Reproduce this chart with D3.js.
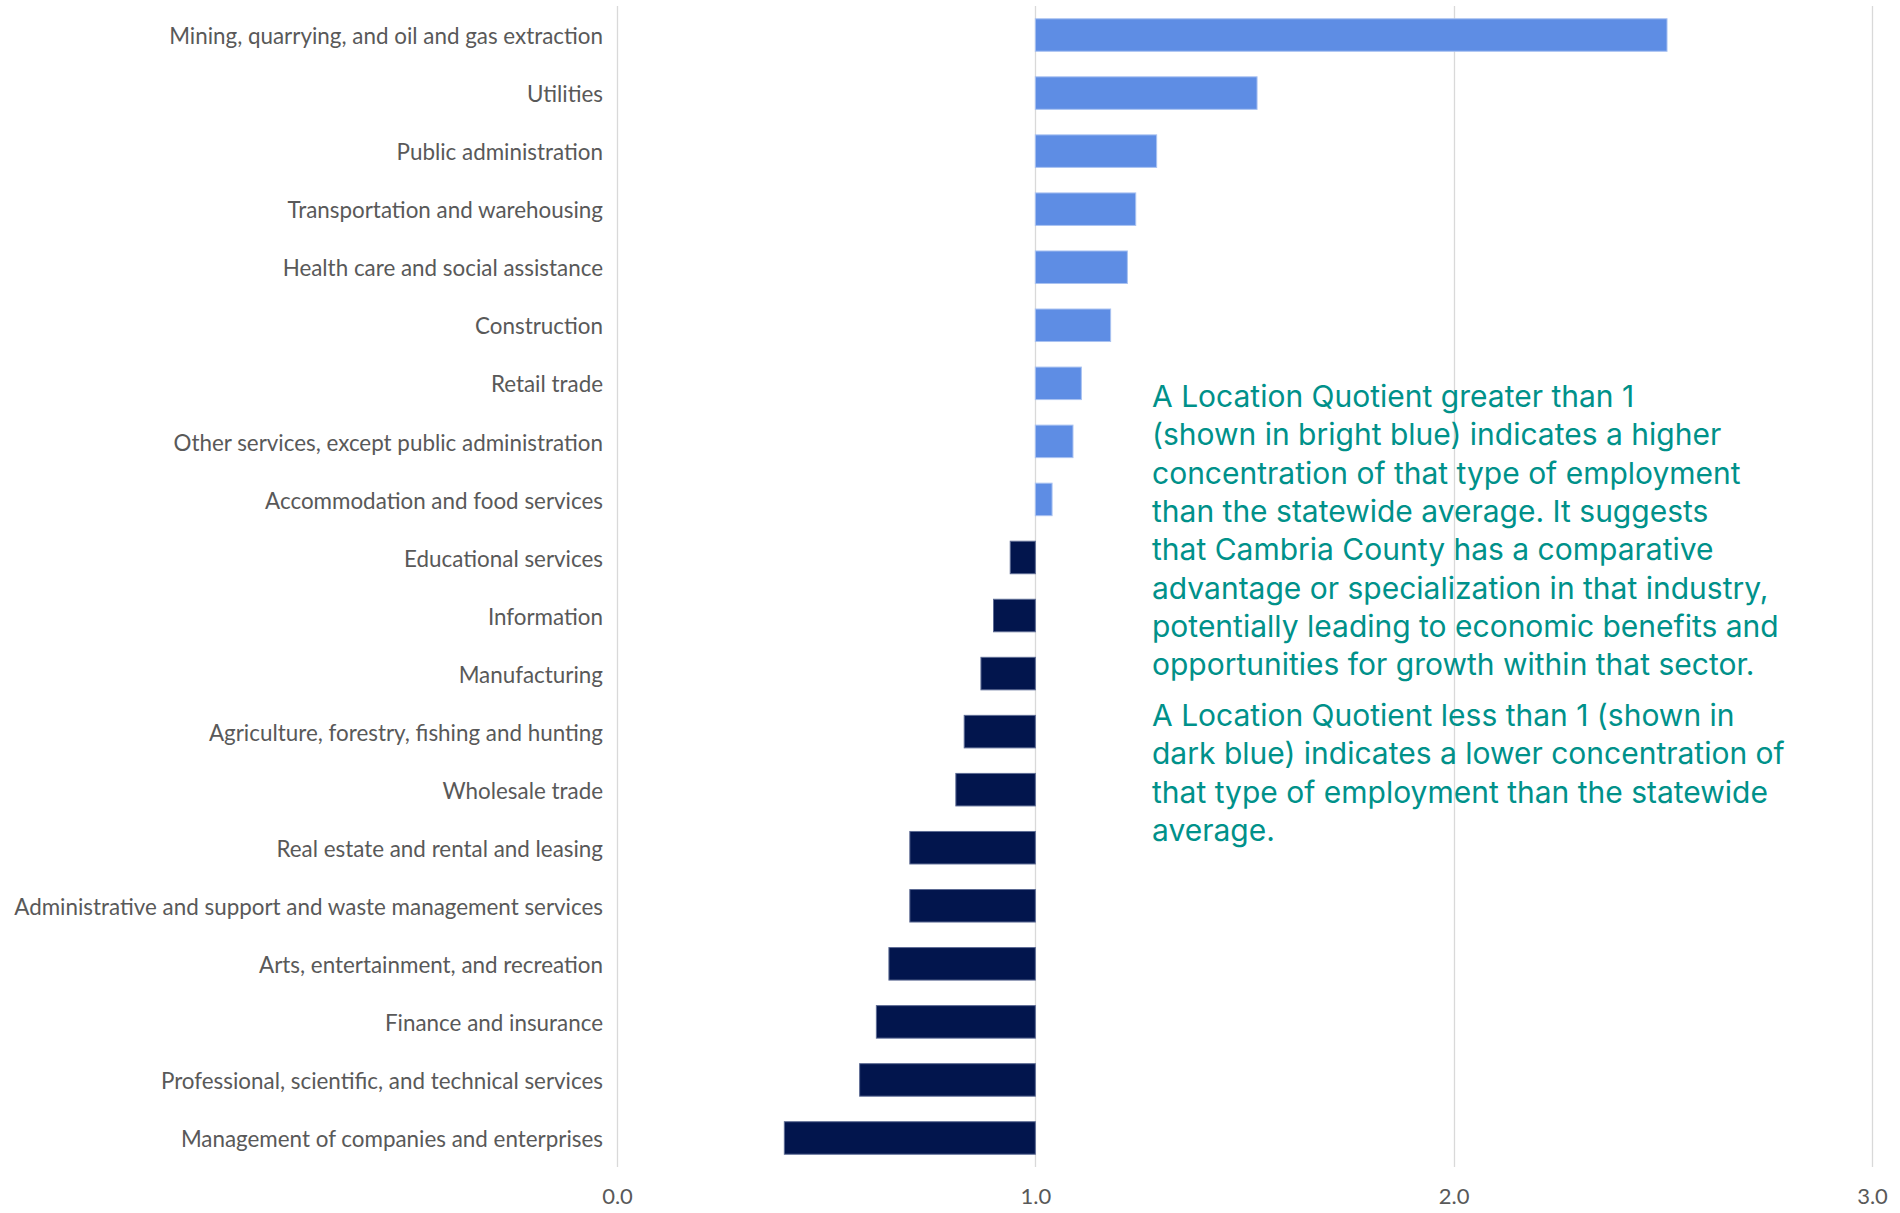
<!DOCTYPE html>
<html>
<head>
<meta charset="utf-8">
<script src="https://cdn.jsdelivr.net/npm/d3@7"></script>
<style>
  html, body { margin: 0; padding: 0; background: #ffffff; }
  svg { display: block; }
</style>
</head>
<body>
<div id="chart"></div>
<script>
// Industry sectors, ordered as they appear from top to bottom
const categories = [
  "Mining, quarrying, and oil and gas extraction",
  "Utilities",
  "Public administration",
  "Transportation and warehousing",
  "Health care and social assistance",
  "Construction",
  "Retail trade",
  "Other services, except public administration",
  "Accommodation and food services",
  "Educational services",
  "Information",
  "Manufacturing",
  "Agriculture, forestry, fishing and hunting",
  "Wholesale trade",
  "Real estate and rental and leasing",
  "Administrative and support and waste management services",
  "Arts, entertainment, and recreation",
  "Finance and insurance",
  "Professional, scientific, and technical services",
  "Management of companies and enterprises"
];

// Location quotient for each sector (1.0 = statewide average)
const locationQuotient = [
  2.51, 1.53, 1.29, 1.24, 1.22, 1.18, 1.11, 1.09, 1.04,
  0.94, 0.90, 0.87, 0.83, 0.81, 0.70, 0.70, 0.65, 0.62, 0.58, 0.40
];

const xTicks = [0, 1, 2, 3];

const noteParagraphs = [
  [
    "A Location Quotient greater than 1",
    "(shown in bright blue) indicates a higher",
    "concentration of that type of employment",
    "than the statewide average. It suggests",
    "that Cambria County has a comparative",
    "advantage or specialization in that industry,",
    "potentially leading to economic benefits and",
    "opportunities for growth within that sector."
  ],
  [
    "A Location Quotient less than 1 (shown in",
    "dark blue) indicates a lower concentration of",
    "that type of employment than the statewide",
    "average."
  ]
];

const W = 1900, H = 1213;
const margin = { top: 6, right: 28, bottom: 46, left: 617 };

const svg = d3.select("#chart").append("svg")
  .attr("width", W)
  .attr("height", H);

const x = d3.scaleLinear()
  .domain([0, 3])
  .range([margin.left, W - margin.right]);

const y = d3.scaleBand()
  .domain(categories)
  .range([margin.top, H - margin.bottom])
  .paddingInner(0.44)
  .paddingOuter(0.22);

const labelFont = "Lato, 'Carlito', 'Liberation Sans', sans-serif";

// vertical gridlines
svg.append("g")
  .selectAll("line")
  .data(xTicks)
  .join("line")
  .attr("x1", d => Math.round(x(d)) + 0.5)
  .attr("x2", d => Math.round(x(d)) + 0.5)
  .attr("y1", margin.top)
  .attr("y2", H - margin.bottom)
  .attr("stroke", "#d9d9d9")
  .attr("stroke-width", 1.3);

// bars grow from the statewide baseline at 1.0
const rows = categories.map((c, i) => ({ name: c, value: locationQuotient[i] }));

svg.append("g")
  .selectAll("rect")
  .data(rows)
  .join("rect")
  .attr("x", d => Math.min(x(1), x(d.value)))
  .attr("width", d => Math.abs(x(d.value) - x(1)))
  .attr("y", d => y(d.name))
  .attr("height", y.bandwidth())
  .attr("fill", d => d.value >= 1 ? "#5e8de4" : "#02154d")
  .attr("stroke", d => d.value >= 1 ? "#a9c2f1" : "#5d6b94")
  .attr("stroke-width", 1);

// category labels
const yAxis = d3.axisLeft(y).tickSize(0).tickPadding(14);
const gy = svg.append("g")
  .attr("transform", `translate(${margin.left},2)`)
  .call(yAxis);
gy.select(".domain").remove();
gy.selectAll("text")
  .attr("fill", "#595959")
  .style("font-family", labelFont)
  .style("font-size", "22.4px");

// value axis labels
const xAxis = d3.axisBottom(x)
  .tickValues(xTicks)
  .tickFormat(d3.format(".1f"))
  .tickSize(0)
  .tickPadding(21);
const gx = svg.append("g")
  .attr("transform", `translate(0,${H - margin.bottom})`)
  .call(xAxis);
gx.select(".domain").remove();
gx.selectAll("text")
  .attr("fill", "#595959")
  .style("font-family", labelFont)
  .style("font-size", "22px");

// explanatory note
const note = svg.append("g")
  .attr("fill", "#00918a")
  .style("font-family", "Inter, Roboto, 'Noto Sans', sans-serif")
  .style("font-size", "30px");

const lineStep = 38.3, paraGap = 51;
let baseline = 407;
noteParagraphs.forEach((para, pi) => {
  if (pi > 0) baseline += paraGap - lineStep;
  para.forEach(line => {
    note.append("text")
      .attr("x", 1152)
      .attr("y", baseline)
      .text(line);
    baseline += lineStep;
  });
});
</script>
</body>
</html>
